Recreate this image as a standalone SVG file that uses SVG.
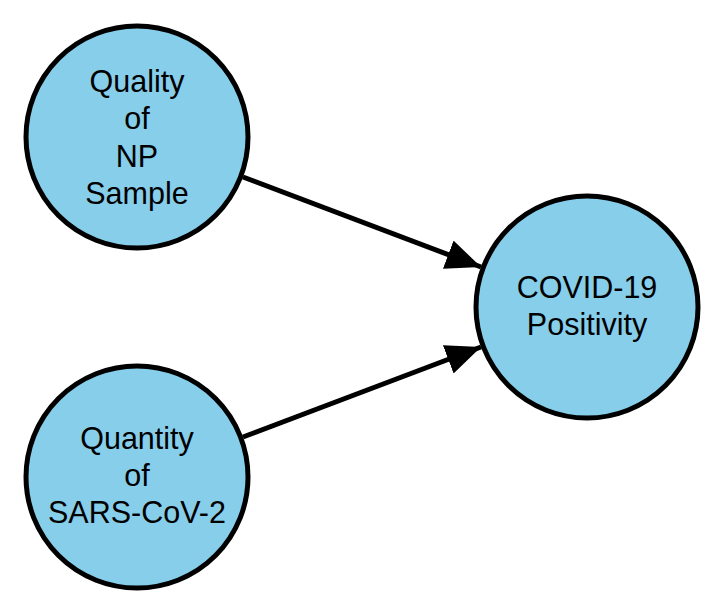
<svg xmlns="http://www.w3.org/2000/svg" width="724" height="616" viewBox="0 0 724 616">
<defs>
<style>
.node circle { fill: #87CEEB; stroke: #000; stroke-width: 5; }
.node text { font-family: "Liberation Sans", Arial, sans-serif; font-size: 30.5px; fill: #000; text-anchor: middle; }
.edge { stroke: #000; stroke-width: 5; fill: none; }
</style>
<marker id="arrow" markerUnits="userSpaceOnUse" markerWidth="36" markerHeight="32" refX="35" refY="15" orient="auto">
<path d="M0,0 L35,15 L0,30 Z" fill="#000"/>
</marker>
</defs>
<g id="connectors">
<line class="edge" x1="243" y1="177" x2="481" y2="267" marker-end="url(#arrow)"/>
<line class="edge" x1="243" y1="437" x2="481" y2="347" marker-end="url(#arrow)"/>
</g>
<g id="node-quality" class="node">
<circle cx="137" cy="137" r="111"/>
<text x="137" y="92">Quality</text>
<text x="137" y="129">of</text>
<text x="137" y="167">NP</text>
<text x="137" y="204">Sample</text>
</g>
<g id="node-quantity" class="node">
<circle cx="137" cy="477" r="111"/>
<text x="137" y="449">Quantity</text>
<text x="137" y="486">of</text>
<text x="137" y="523">SARS-CoV-2</text>
</g>
<g id="node-covid" class="node">
<circle cx="587" cy="307" r="111"/>
<text x="587" y="298">COVID-19</text>
<text x="587" y="335">Positivity</text>
</g>
</svg>
